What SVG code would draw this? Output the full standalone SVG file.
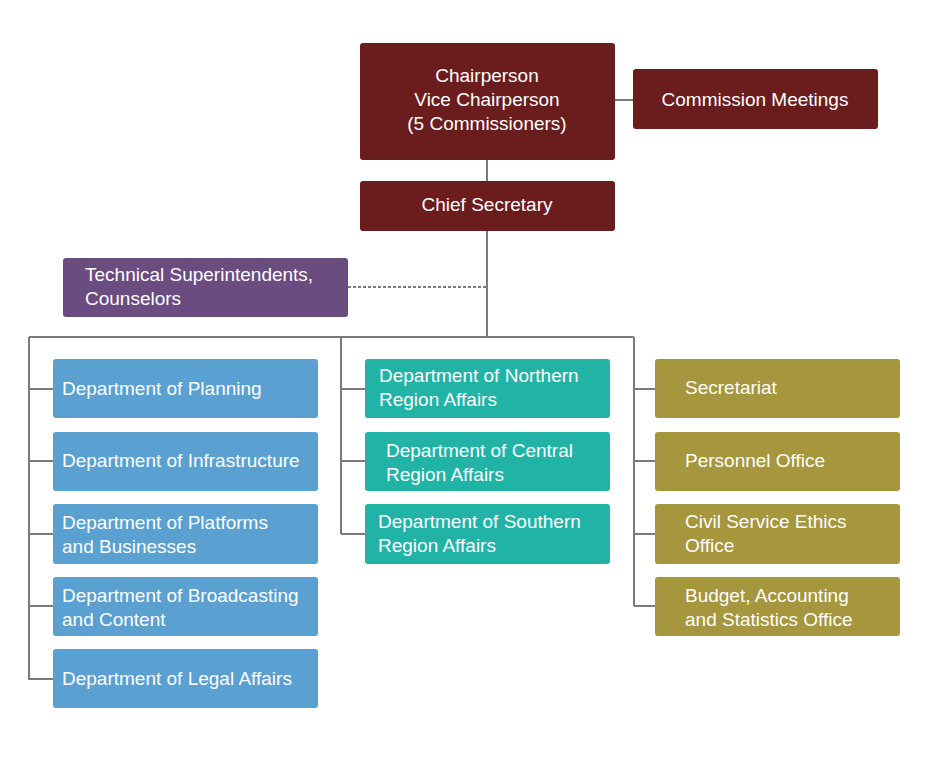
<svg xmlns="http://www.w3.org/2000/svg" width="934" height="758" viewBox="0 0 934 758">
<style>
text{font-family:"Liberation Sans",Arial,sans-serif;font-size:19px;fill:#fff}
.c{text-anchor:middle}
.r{fill:#6b1c1c}.p{fill:#6a4c80}.b{fill:#5aa0d1}.t{fill:#21b3a6}.o{fill:#a6963d}
.l{stroke:#7a7a7a;stroke-width:2;fill:none}
</style>
<rect width="934" height="758" fill="#fff"/>
<g id="connectors">
<path class="l" d="M615 100H633M487 160V181M487 231V337M29 337H634M29 337V680M29 389H53M29 461H53M29 534H53M29 606H53M29 679H53M341 337V534M341 389H365M341 461H365M341 534H365M634 337V606M634 389H655M634 461H655M634 534H655M634 606H655"/>
<path class="l" d="M348 287H487" stroke-dasharray="3,2"/>
</g>
<g id="chair"><rect class="r" x="360" y="43" width="255" height="117" rx="3"/><text class="c" x="487" y="82">Chairperson</text><text class="c" x="487" y="106">Vice Chairperson</text><text class="c" x="487" y="130">(5 Commissioners)</text></g>
<g id="commission"><rect class="r" x="633" y="69" width="245" height="60" rx="3"/><text class="c" x="755" y="106">Commission Meetings</text></g>
<g id="chief"><rect class="r" x="360" y="181" width="255" height="50" rx="3"/><text class="c" x="487" y="211">Chief Secretary</text></g>
<g id="tech"><rect class="p" x="63" y="258" width="285" height="59" rx="3"/><text x="85" y="281">Technical Superintendents,</text><text x="85" y="305">Counselors</text></g>
<g id="planning"><rect class="b" x="53" y="359" width="265" height="59" rx="3"/><text x="62" y="395">Department of Planning</text></g>
<g id="infra"><rect class="b" x="53" y="432" width="265" height="59" rx="3"/><text x="62" y="467">Department of Infrastructure</text></g>
<g id="platforms"><rect class="b" x="53" y="504" width="265" height="60" rx="3"/><text x="62" y="529">Department of Platforms</text><text x="62" y="553">and Businesses</text></g>
<g id="broadcast"><rect class="b" x="53" y="577" width="265" height="59" rx="3"/><text x="62" y="602">Department of Broadcasting</text><text x="62" y="626">and Content</text></g>
<g id="legal"><rect class="b" x="53" y="649" width="265" height="59" rx="3"/><text x="62" y="685">Department of Legal Affairs</text></g>
<g id="north"><rect class="t" x="365" y="359" width="245" height="59" rx="3"/><text x="379" y="382">Department of Northern</text><text x="379" y="406">Region Affairs</text></g>
<g id="central"><rect class="t" x="365" y="432" width="245" height="59" rx="3"/><text x="386" y="457">Department of Central</text><text x="386" y="481">Region Affairs</text></g>
<g id="south"><rect class="t" x="365" y="504" width="245" height="60" rx="3"/><text x="378" y="528">Department of Southern</text><text x="378" y="552">Region Affairs</text></g>
<g id="secretariat"><rect class="o" x="655" y="359" width="245" height="59" rx="3"/><text x="685" y="394">Secretariat</text></g>
<g id="personnel"><rect class="o" x="655" y="432" width="245" height="59" rx="3"/><text x="685" y="467">Personnel Office</text></g>
<g id="ethics"><rect class="o" x="655" y="504" width="245" height="60" rx="3"/><text x="685" y="528">Civil Service Ethics</text><text x="685" y="552">Office</text></g>
<g id="budget"><rect class="o" x="655" y="577" width="245" height="59" rx="3"/><text x="685" y="602">Budget, Accounting</text><text x="685" y="626">and Statistics Office</text></g>
</svg>
